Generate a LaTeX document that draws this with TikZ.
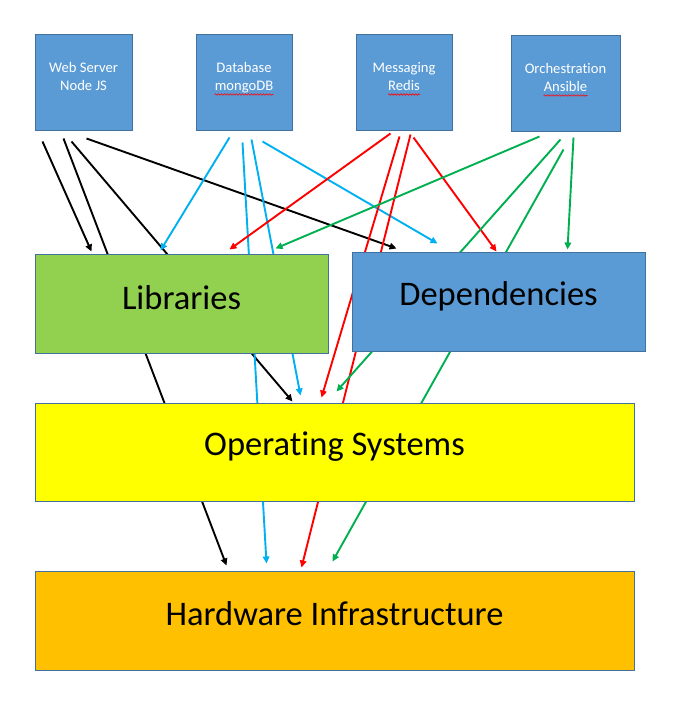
\documentclass[tikz,border=0pt]{standalone}
\usepackage{fontspec}
\setmainfont[Ligatures=NoCommon]{Carlito}
\usetikzlibrary{arrows.meta,fit,calc,backgrounds,decorations.pathmorphing}
\definecolor{boxblue}{HTML}{5B9BD5}
\definecolor{edgeblue}{HTML}{41719C}
\definecolor{libgreen}{HTML}{92D050}
\definecolor{osyellow}{HTML}{FFFF00}
\definecolor{hworange}{HTML}{FFC000}
\definecolor{cyanline}{HTML}{00B0F0}
\definecolor{greenline}{HTML}{00B050}
\definecolor{redline}{HTML}{FF0000}
\begin{document}
\begin{tikzpicture}[x=1pt,y=-1pt,
  layer/.style={draw=edgeblue,line width=1pt,inner sep=0pt},
  small/.style={font=\fontsize{14.6}{17}\selectfont,text=white,inner sep=0pt,anchor=base},
  big/.style={font=\fontsize{34.5}{40}\selectfont,text=black,inner sep=0pt,anchor=base},
  conn/.style={line width=1.9pt,-{Triangle[length=7pt,width=6.5pt]}},
  squig/.style={draw=redline,line width=0.6pt,decorate,decoration={snake,segment length=3pt,amplitude=0.8pt}}
]
\useasboundingbox (0,0) rectangle (686,722);
% boxes
\node[layer,fill=boxblue,fit={(35,35)(132,131)}] (ws) {};
\node[layer,fill=boxblue,fit={(196,35)(292,131)}] (db) {};
\node[layer,fill=boxblue,fit={(356,35)(452,131)}] (mq) {};
\node[layer,fill=boxblue,fit={(511,36)(620,132)}] (orch) {};
\node[layer,fill=libgreen,fit={(35,254)(328,353)}] (lib) {};
\node[layer,fill=boxblue,fit={(352,252)(645,351)}] (dep) {};
\node[layer,fill=osyellow,fit={(35,403)(634,501)}] (os) {};
\node[layer,fill=hworange,fit={(35,571)(634,670)}] (hw) {};
% texts
\node[small] (wsA) at (83.5,72.5) {Web Server};
\node[small] (wsB) at (83.5,91) {Node JS};
\node[small] (dbA) at (244,72.5) {Database};
\node[small] (dbB) at (244,91) {mongoDB};
\node[small] (mqA) at (404,72.5) {Messaging};
\node[small] (mqB) at (404,91) {Redis};
\node[small] (orA) at (565.5,73.5) {Orchestration};
\node[small] (orB) at (565.5,92) {Ansible};
\draw[squig] ($(dbB.base west)+(0,3.5)$) -- ($(dbB.base east)+(0,3.5)$);
\draw[squig] ($(mqB.base west)+(0,3.5)$) -- ($(mqB.base east)+(0,3.5)$);
\draw[squig] ($(orB.base west)+(0,3.5)$) -- ($(orB.base east)+(0,3.5)$);
\node[big] (libT) at (181.5,309) {Libraries};
\node[big] (depT) at (498.5,305) {Dependencies};
\node[big] (osT) at (334.5,455) {Operating Systems};
\node[big] (hwT) at (334.5,625) {Hardware Infrastructure};
% start points
\coordinate (ws1) at ($(ws.south west)+(8,10)$);
\coordinate (ws2) at ($(ws.south west)+(29,7)$);
\coordinate (ws3) at ($(ws.south west)+(37,10)$);
\coordinate (ws4) at ($(ws.south west)+(52,7)$);
\coordinate (db1) at ($(db.south west)+(34,6)$);
\coordinate (db2) at ($(db.south west)+(47,11)$);
\coordinate (db3) at ($(db.south west)+(56,8)$);
\coordinate (db4) at ($(db.south west)+(67,10)$);
\coordinate (mq1) at ($(mq.south west)+(35,2)$);
\coordinate (mq2) at ($(mq.south west)+(44,5)$);
\coordinate (mq3) at ($(mq.south west)+(55,3)$);
\coordinate (mq4) at ($(mq.south west)+(58,6)$);
\coordinate (or1) at ($(orch.south west)+(29,4)$);
\coordinate (or2) at ($(orch.south west)+(50,7)$);
\coordinate (or3) at ($(orch.south west)+(53,17)$);
\coordinate (or4) at ($(orch.south west)+(63,5)$);
% end points
\coordinate (libK) at ($(lib.north west)+(57,-2)$);
\coordinate (libC) at ($(lib.north west)+(126,-3)$);
\coordinate (libR) at ($(lib.north west)+(195,-4)$);
\coordinate (libG) at ($(lib.north west)+(241,-5)$);
\coordinate (depK) at ($(dep.north west)+(45,-3)$);
\coordinate (depC) at ($(dep.north west)+(86,-8)$);
\coordinate (depR) at ($(dep.north west)+(145,0)$);
\coordinate (depG) at ($(dep.north west)+(216,-2)$);
\coordinate (osK) at ($(os.north west)+(258,-1)$);
\coordinate (osC) at ($(os.north west)+(266,-7)$);
\coordinate (osR) at ($(os.north west)+(287,-5)$);
\coordinate (osG) at ($(os.north west)+(302,-11)$);
\coordinate (hwK) at ($(hw.north west)+(192,-5)$);
\coordinate (hwC) at ($(hw.north west)+(232,-7)$);
\coordinate (hwR) at ($(hw.north west)+(267,-3)$);
\coordinate (hwG) at ($(hw.north west)+(298,-9)$);
\begin{scope}[on background layer]
\fill[white] (0,0) rectangle (686,722);
\draw[conn,black] (ws1) -- (libK);
\draw[conn,black] (ws2) -- (hwK);
\draw[conn,black] (ws3) -- (osK);
\draw[conn,black] (ws4) -- (depK);
\draw[conn,cyanline] (db1) -- (libC);
\draw[conn,cyanline] (db2) -- (hwC);
\draw[conn,cyanline] (db3) -- (osC);
\draw[conn,cyanline] (db4) -- (depC);
\draw[conn,redline] (mq1) -- (libR);
\draw[conn,redline] (mq2) -- (osR);
\draw[conn,redline] (mq3) -- (hwR);
\draw[conn,redline] (mq4) -- (depR);
\draw[conn,greenline] (or1) -- (libG);
\draw[conn,greenline] (or2) -- (osG);
\draw[conn,greenline] (or3) -- (hwG);
\draw[conn,greenline] (or4) -- (depG);
\end{scope}
\end{tikzpicture}
\end{document}
